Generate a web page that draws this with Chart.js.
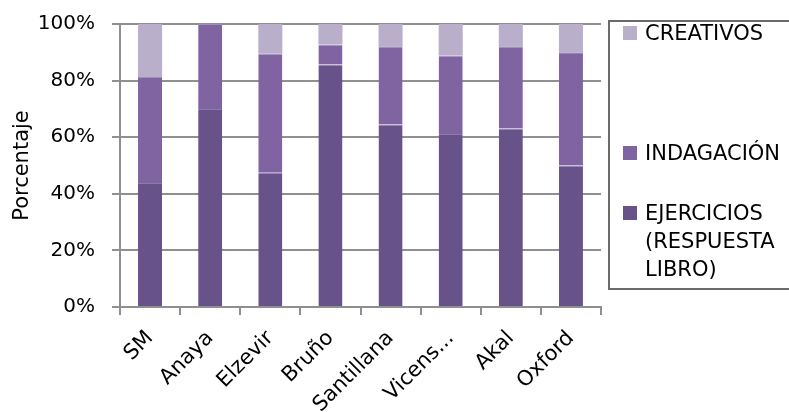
<!DOCTYPE html>
<html>
<head>
<meta charset="utf-8">
<script src="https://cdn.jsdelivr.net/npm/chart.js"></script>
<style>
	body { margin:0; background:#fff; overflow:hidden; font-family:'DejaVu Sans', sans-serif; }
	#wrap { position:relative; width:789px; height:412px; }
	#legend { position:absolute; left:608px; top:20px; width:200px; height:270px; border:2px solid #6a6a6a; box-sizing:border-box; }
	.item { position:absolute; left:13px; width:150px; font-size:21px; line-height:28px; color:#000; }
	.item .mark { position:absolute; left:0; top:7px; width:14px; height:14px; }
	.item .txt { display:block; margin-left:22px; }
</style>
</head>
<body>
<div id="wrap">
	<canvas id="barChart" width="789" height="412"></canvas>
	<div id="legend"></div>
</div>
<script>
// values (percent of each publisher)
var categories  = ['SM', 'Anaya', 'Elzevir', 'Bruño', 'Santillana', 'Vicens...', 'Akal', 'Oxford'];
var ejercicios  = [43.8, 70.0, 47.4, 85.7, 64.5, 61.1, 63.1, 50.0];
var indagacion  = [37.5, 30.0, 42.1, 7.1, 27.4, 27.8, 28.8, 40.0];
var creativos   = [18.7, 0.0, 10.5, 7.2, 8.1, 11.1, 8.1, 10.0];
var seriesNames = ['EJERCICIOS (RESPUESTA LIBRO)', 'INDAGACIÓN', 'CREATIVOS'];
var yTicks      = [0, 20, 40, 60, 80, 100];

var colors = ['#67528a', '#8064a2', '#b9afcb'];
var gridColor = '#8f8f8f';

Chart.defaults.font.family = "'DejaVu Sans', sans-serif";
Chart.defaults.color = '#000';

var barChartData = {
	labels  : categories,
	datasets: [
		{ label: seriesNames[0], data: ejercicios, backgroundColor: colors[0], borderColor: '#8d7cab', borderWidth: { top: 1, left: 0, right: 0, bottom: 0 } },
		{ label: seriesNames[1], data: indagacion, backgroundColor: colors[1], borderColor: '#a08fba', borderWidth: { top: 1, left: 0, right: 0, bottom: 0 } },
		{ label: seriesNames[2], data: creativos,  backgroundColor: colors[2], borderWidth: 0 }
	]
};

var barChartOptions = {
	responsive : false,
	animation  : false,
	layout     : { padding: { left: 5, top: 24, right: 188, bottom: 0 } },
	datasets   : { bar: { barPercentage: 0.4, categoryPercentage: 1.0 } },
	plugins    : { legend: { display: false }, tooltip: { enabled: false } },
	scales     : {
		x: {
			stacked : true,
			offset  : true,
			grid    : { drawOnChartArea: false, drawTicks: true, tickLength: 8, color: gridColor, lineWidth: 2, offset: true },
			border  : { color: gridColor, width: 2 },
			ticks   : { autoSkip: false, maxRotation: 45, minRotation: 45, padding: 11, font: { size: 21 } },
			afterFit: function(s){ s.height = 105; }
		},
		y: {
			stacked : true,
			min     : 0,
			max     : 100,
			grid    : { color: gridColor, lineWidth: 2, tickLength: 8 },
			border  : { color: gridColor, width: 2 },
			ticks   : { padding: 17, font: { size: 20 }, callback: function(v){ return v + '%'; } },
			afterBuildTicks: function(s){ s.ticks = yTicks.map(function(v){ return { value: v }; }); },
			title   : { display: true, text: 'Porcentaje', font: { size: 21 }, padding: { top: 5, bottom: 0 } },
			afterFit: function(s){ s.width = 115; s.paddingTop = 0; s.paddingBottom = 0; }
		}
	}
};

var barChart = new Chart(document.getElementById('barChart').getContext('2d'), {
	type   : 'bar',
	data   : barChartData,
	options: barChartOptions
});

// legend box, top item is the last series
var legendTops = [177, 117, -3];
var legend = document.getElementById('legend');
for (var i = seriesNames.length - 1; i >= 0; i--) {
	var item = document.createElement('div');
	item.className = 'item';
	item.style.top = legendTops[i] + 'px';
	item.innerHTML = '<span class="mark" style="background:' + colors[i] + '"></span><span class="txt">' + seriesNames[i] + '</span>';
	legend.appendChild(item);
}
</script>
</body>
</html>
